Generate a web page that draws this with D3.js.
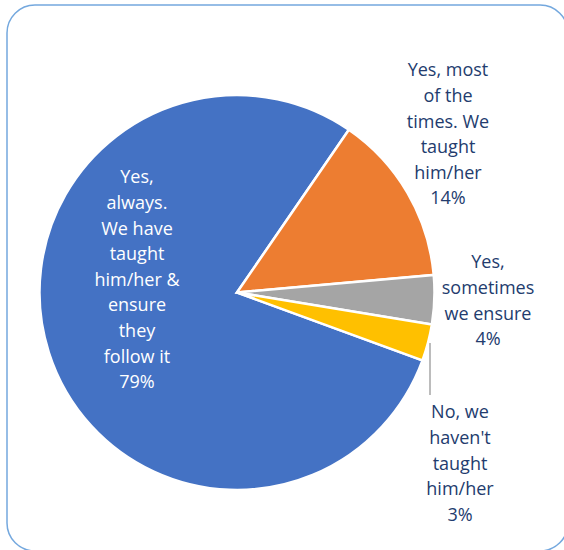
<!DOCTYPE html>
<html>
<head>
<meta charset="utf-8">
<script src="https://cdn.jsdelivr.net/npm/d3@7"></script>
<style>
  html, body { margin: 0; padding: 0; background: #fff; }
  svg { display: block; }
</style>
</head>
<body>
<script>
// Survey answers and their shares (percent)
const categories = [
  "Yes, always. We have taught him/her & ensure they follow it",
  "Yes, most of the times. We taught him/her",
  "Yes, sometimes we ensure",
  "No, we haven't taught him/her"
];
const values = [79, 14, 4, 3];
const labelLines = [
  ["Yes,", "always.", "We have", "taught", "him/her &", "ensure", "they", "follow it"],
  ["Yes, most", "of the", "times. We", "taught", "him/her"],
  ["Yes,", "sometimes", "we ensure"],
  ["No, we", "haven't", "taught", "him/her"]
];
const colors = ["#4472C4", "#ED7D31", "#A5A5A5", "#FFC000"];

const W = 564, H = 550;
const cx = 237, cy = 292.5, R = 197.5;

const svg = d3.select("body").append("svg")
  .attr("width", W).attr("height", H);

// Chart frame
svg.append("rect")
  .attr("x", 7).attr("y", 5)
  .attr("width", 561).attr("height", 546)
  .attr("rx", 28).attr("ry", 28)
  .attr("fill", "#fff")
  .attr("stroke", "#74A8DE")
  .attr("stroke-width", 1.5);

const start = 110.1 * Math.PI / 180;
const pie = d3.pie().sort(null).value(d => d)
  .startAngle(start).endAngle(start + 2 * Math.PI);
const arcs = pie(values);
const arc = d3.arc().innerRadius(0).outerRadius(R);

const g = svg.append("g").attr("transform", `translate(${cx},${cy})`);
g.selectAll("path.slice").data(arcs).enter().append("path")
  .attr("class", "slice")
  .attr("d", arc)
  .attr("fill", (d, i) => colors[i])
  .attr("stroke", "#fff")
  .attr("stroke-width", 2.5)
  .attr("stroke-linejoin", "miter");

// Leader line for the smallest slice
svg.append("line")
  .attr("x1", 430).attr("y1", 343)
  .attr("x2", 430).attr("y2", 395)
  .attr("stroke", "#A6A6A6").attr("stroke-width", 1.5);

// Data labels: [center x, first line center y, color]
const labelPos = [
  [137, 177, "#FFFFFF"],
  [448, 70, "#233C6E"],
  [488, 262, "#233C6E"],
  [460, 412, "#233C6E"]
];
const lh = 25.6;
const font = "'Open Sans', sans-serif";

arcs.forEach((a, i) => {
  const lines = labelLines[i].concat([d3.format(".0f")(values[i]) + "%"]);
  const [lx, ly, col] = labelPos[i];
  const t = svg.append("text")
    .attr("text-anchor", "middle")
    .attr("font-family", font)
    .attr("font-size", 18)
    .attr("fill", col);
  lines.forEach((s, k) => {
    t.append("tspan")
      .attr("x", lx)
      .attr("y", ly + k * lh)
      .attr("dy", "0.35em")
      .text(s);
  });
});
</script>
</body>
</html>
